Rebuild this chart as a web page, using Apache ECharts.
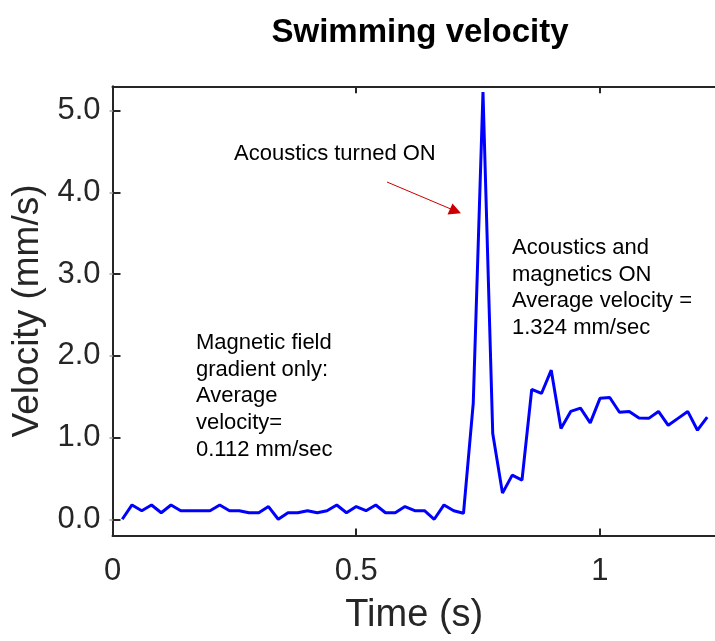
<!DOCTYPE html>
<html>
<head>
<meta charset="utf-8">
<script src="https://cdn.jsdelivr.net/npm/echarts@6/dist/echarts.min.js"></script>
<style>
html,body{margin:0;padding:0;background:#fff;}
#chart{width:715px;height:641px;}
</style>
</head>
<body>
<div id="chart"></div>
<script>
// ---- data ----
var timeS = [0.02,0.04,0.06,0.08,0.10,0.12,0.14,0.16,0.18,0.20,
             0.22,0.24,0.26,0.28,0.30,0.32,0.34,0.36,0.38,0.40,
             0.42,0.44,0.46,0.48,0.50,0.52,0.54,0.56,0.58,0.60,
             0.62,0.64,0.66,0.68,0.70,0.72,0.74,0.76,0.78,0.80,
             0.82,0.84,0.86,0.88,0.90,0.92,0.94,0.96,0.98,1.00,
             1.02,1.04,1.06,1.08,1.10,1.12,1.14,1.16,1.18,1.20,1.22];
var velocity = [0.00,0.175,0.105,0.175,0.08,0.175,0.105,0.105,0.105,0.105,
                0.175,0.105,0.105,0.08,0.08,0.155,0.00,0.08,0.08,0.105,
                0.08,0.105,0.175,0.08,0.155,0.105,0.175,0.08,0.08,0.155,
                0.105,0.105,0.00,0.175,0.105,0.073,1.42,5.23,1.05,0.32,
                0.54,0.48,1.59,1.54,1.825,1.11,1.32,1.36,1.18,1.48,
                1.49,1.31,1.32,1.24,1.235,1.32,1.15,1.235,1.32,1.09,1.25];
var xTicks = [0, 0.5, 1];
var yTicks = [0, 1, 2, 3, 4, 5];
var titleText = 'Swimming velocity';
var xName = 'Time (s)';
var yName = 'Velocity (mm/s)';
var noteAcoustic = 'Acoustics turned ON';
var noteMagnetic = 'Magnetic field\ngradient only:\nAverage\nvelocity=\n0.112 mm/sec';
var noteBoth = 'Acoustics and\nmagnetics ON\nAverage velocity =\n1.324 mm/sec';

var seriesData = timeS.map(function (t, i) { return [t, velocity[i]]; });

var FONT = '"Liberation Sans", Arial, Helvetica, sans-serif';
var AX = '#262626';

var chart = echarts.init(document.getElementById('chart'), null, {renderer: 'canvas'});
var option = {
  animation: false,
  backgroundColor: '#ffffff',
  grid: {left: 112.5, top: 86.3, width: 603.5, height: 449.3, containLabel: false, outerBoundsMode: 'none'},
  xAxis: [{
    type: 'value', position: 'bottom', min: 0, max: 1.238,
    name: xName, nameLocation: 'middle', nameGap: 61,
    nameTextStyle: {fontFamily: FONT, fontSize: 38, color: AX},
    axisLine: {show: true, onZero: false, lineStyle: {color: AX, width: 2}},
    axisTick: {show: true, inside: true, length: 7, customValues: xTicks, lineStyle: {color: AX, width: 2}},
    axisLabel: {show: true, customValues: xTicks, margin: 20, fontFamily: FONT, fontSize: 31, color: AX,
      formatter: function (v) { return String(v); }},
    splitLine: {show: false}
  }, {
    type: 'value', position: 'top', min: 0, max: 1.238,
    axisLine: {show: true, onZero: false, lineStyle: {color: AX, width: 2}},
    axisTick: {show: true, inside: true, length: 7, customValues: xTicks, lineStyle: {color: AX, width: 2}},
    axisLabel: {show: false},
    splitLine: {show: false}
  }],
  yAxis: [{
    type: 'value', position: 'left', min: -0.2, max: 5.3,
    name: yName, nameLocation: 'middle', nameGap: 66, nameRotate: 90,
    nameTextStyle: {fontFamily: FONT, fontSize: 37, color: AX},
    axisLine: {show: true, onZero: false, lineStyle: {color: AX, width: 2}},
    axisTick: {show: true, inside: true, length: 8, customValues: yTicks, lineStyle: {color: AX, width: 2}},
    axisLabel: {show: true, customValues: yTicks, margin: 12, fontFamily: FONT, fontSize: 31, color: AX,
      formatter: function (v) { return v.toFixed(1); }},
    splitLine: {show: false}
  }, {
    type: 'value', position: 'right', min: -0.2, max: 5.3,
    axisLine: {show: false},
    axisTick: {show: true, inside: true, length: 3, customValues: yTicks, lineStyle: {color: '#bbbbbb', width: 2}},
    axisLabel: {show: false},
    splitLine: {show: false}
  }],
  series: [{
    type: 'line', xAxisIndex: 0, yAxisIndex: 0,
    data: seriesData,
    showSymbol: false, symbol: 'none',
    lineStyle: {color: '#0000ff', width: 3},
    z: 3
  }],
  graphic: [
    {type: 'text', x: 420, y: 33, style: {text: titleText, font: 'bold 33px ' + FONT, fill: '#000', align: 'center', verticalAlign: 'middle'}},
    {type: 'text', left: 234, top: 143, style: {text: noteAcoustic, font: '22px ' + FONT, fill: '#000'}},
    {type: 'line', shape: {x1: 387, y1: 182, x2: 452, y2: 209.5}, style: {stroke: '#cc0000', lineWidth: 1}},
    {type: 'polygon', shape: {points: [[461, 213.3], [447.5, 214.5], [452.5, 203.5]]}, style: {fill: '#cc0000'}},
    {type: 'text', left: 196, top: 329.6, style: {text: noteMagnetic, font: '22px ' + FONT, lineHeight: 26.7, fill: '#000'}},
    {type: 'text', left: 512, top: 234.6, style: {text: noteBoth, font: '22px ' + FONT, lineHeight: 26.7, fill: '#000'}}
  ]
};
chart.setOption(option);
</script>
</body>
</html>
